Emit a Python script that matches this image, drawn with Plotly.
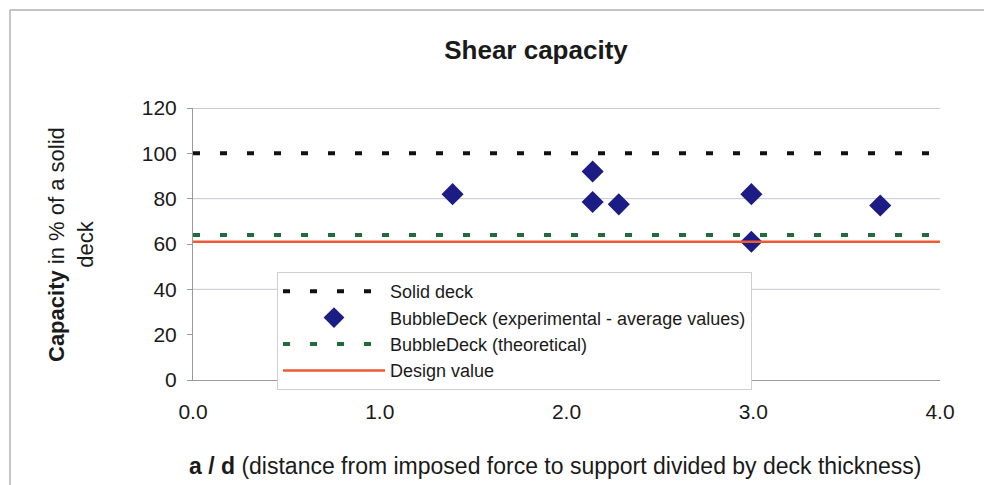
import plotly.graph_objects as go

# ---- data ----
X_RANGE = [0.0, 4.0]
SOLID_DECK = 100
THEORETICAL = 64
DESIGN_VALUE = 61
EXP_X = [1.39, 2.14, 2.14, 2.28, 2.99, 2.99, 3.68]
EXP_Y = [82, 92, 78.5, 77.5, 82, 61, 77]
Y_TICKS = [0, 20, 40, 60, 80, 100, 120]
X_TICKS = [0.0, 1.0, 2.0, 3.0, 4.0]
X_TICK_LABELS = ["0.0", "1.0", "2.0", "3.0", "4.0"]
GRID_Y = [40, 80, 120]

FONT = "Liberation Sans, Arial, sans-serif"
TXT = "#1a1a1a"

fig = go.Figure()

fig.add_trace(go.Scatter(
    x=X_RANGE, y=[SOLID_DECK, SOLID_DECK], mode="lines", name="Solid deck",
    line=dict(color="#111111", width=4, dash="7px,20px")))
fig.add_trace(go.Scatter(
    x=EXP_X, y=EXP_Y, mode="markers",
    name="BubbleDeck (experimental - average values)",
    marker=dict(symbol="diamond", size=17, color="#1c1c85")))
fig.add_trace(go.Scatter(
    x=X_RANGE, y=[THEORETICAL, THEORETICAL], mode="lines",
    name="BubbleDeck (theoretical)",
    line=dict(color="#226b3a", width=4, dash="7px,20px")))
fig.add_trace(go.Scatter(
    x=X_RANGE, y=[DESIGN_VALUE, DESIGN_VALUE], mode="lines",
    name="Design value",
    line=dict(color="#ee5a35", width=2.5)))

shapes = []
for gy in GRID_Y:
    shapes.append(dict(type="line", xref="paper", yref="y", x0=0, x1=1,
                       y0=gy, y1=gy, layer="below",
                       line=dict(color="#c4c6d4" if gy != 120 else "#9a9a9a", width=1)))
# outer chart frame (left and top edges)
L, T, W, H = 193, 108, 747, 272
def px(x):
    return (x - L) / W
def py(y):
    return (T + H - y) / H
shapes.append(dict(type="line", xref="paper", yref="paper",
                   x0=px(10), x1=px(984), y0=py(10), y1=py(10),
                   line=dict(color="#b0b0b0", width=1.5)))
shapes.append(dict(type="line", xref="paper", yref="paper",
                   x0=px(10), x1=px(10), y0=py(10), y1=py(485),
                   line=dict(color="#b0b0b0", width=1.5)))

fig.update_layout(
    width=984, height=485,
    margin=dict(l=L, r=984 - L - W, t=T, b=485 - T - H),
    paper_bgcolor="white", plot_bgcolor="white",
    font=dict(family=FONT, color=TXT, size=21),
    title=dict(text="<b>Shear capacity</b>", x=536 / 984, xref="container",
               xanchor="center", y=1 - 50 / 485, yref="container", yanchor="middle",
               font=dict(size=26, color=TXT)),
    xaxis=dict(range=X_RANGE, tickvals=X_TICKS, ticktext=X_TICK_LABELS,
               showgrid=False, zeroline=False, showline=True,
               linecolor="#9a9a9a", linewidth=1, ticks="",
               ticklabelstandoff=13, tickfont=dict(size=21)),
    yaxis=dict(range=[0, 120], tickvals=Y_TICKS, showgrid=False, zeroline=False,
               showline=True, linecolor="#9a9a9a", linewidth=1,
               ticks="outside", ticklen=5, tickcolor="#9a9a9a",
               ticklabelstandoff=6, tickfont=dict(size=21)),
    shapes=shapes,
    showlegend=True,
    legend=dict(x=px(277), y=py(272), xanchor="left", yanchor="top",
                bgcolor="white", bordercolor="#cfcfcf", borderwidth=1,
                font=dict(size=18), itemwidth=102, tracegroupgap=0),
    annotations=[
        dict(text="<b>Capacity</b> in % of a solid<br>deck", xref="paper", yref="paper",
             x=px(71), y=py(245), xanchor="center", yanchor="middle",
             textangle=-90, showarrow=False, font=dict(size=22, color=TXT)),
        dict(text="<b>a / d</b> (distance from imposed force to support divided by deck thickness)",
             xref="paper", yref="paper", x=px(555), y=py(466),
             xanchor="center", yanchor="middle", showarrow=False,
             font=dict(size=23, color=TXT)),
    ],
)

fig.write_html("out.html", config={"displayModeBar": False},
               post_script="document.body.style.margin='0';document.body.style.overflow='hidden';")
